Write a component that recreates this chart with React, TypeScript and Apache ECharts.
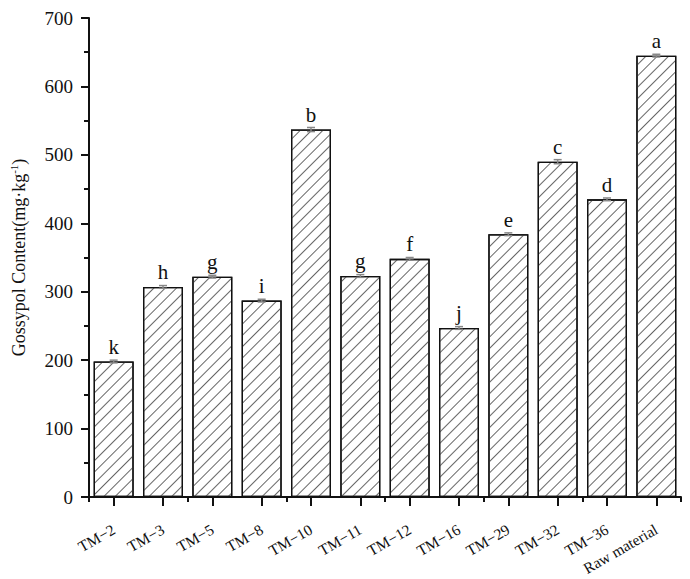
import React, { useEffect, useRef } from "react";
import * as echarts from "echarts";

const categories = ["TM−2", "TM−3", "TM−5", "TM−8", "TM−10", "TM−11", "TM−12", "TM−16", "TM−29", "TM−32", "TM−36", "Raw material"];
const values = [198, 307, 322, 287, 537, 323, 348, 247, 384, 490, 435, 645];
const errors = [2, 2, 2, 2, 3, 2, 2, 2, 2, 3, 2, 2];
const letters = ["k", "h", "g", "i", "b", "g", "f", "j", "e", "c", "d", "a"];
const yTicks = { min: 0, max: 700, interval: 100, minorInterval: 50 };

const FONT = "'Liberation Serif', 'Times New Roman', serif";

export default function App() {
  const ref = useRef<HTMLDivElement>(null);
  useEffect(() => {
    document.body.style.margin = "0";
    const chart = echarts.init(ref.current!, null, { renderer: "svg" });
    const errData = values.map((v, i) => [i, v, errors[i]]);
    chart.setOption({
      animation: false,
      backgroundColor: "#fff",
      grid: { left: 85, right: 9, top: 18, bottom: 82, containLabel: false },
      xAxis: [
        {
          type: "category",
          data: categories,
          axisLine: { show: true, lineStyle: { color: "#111", width: 2 } },
          axisTick: { show: true, alignWithLabel: true, length: 9, lineStyle: { color: "#111", width: 2 } },
          axisLabel: {
            rotate: 30,
            margin: 31,
            fontSize: 15.5,
            color: "#111",
            fontFamily: FONT,
            interval: 0,
          },
          splitLine: { show: false },
          z: 3,
        },
        {
          type: "category",
          data: categories,
          position: "bottom",
          axisLine: { show: false },
          axisTick: { show: true, alignWithLabel: false, length: 5, lineStyle: { color: "#111", width: 2 } },
          axisLabel: { show: false },
          splitLine: { show: false },
        },
      ],
      yAxis: [
        {
          type: "value",
          min: yTicks.min,
          max: yTicks.max,
          interval: yTicks.interval,
          name: "Gossypol Content(mg·kg{sup|-1})",
          nameLocation: "middle",
          nameGap: 60,
          nameRotate: 90,
          nameTextStyle: {
            fontSize: 18,
            color: "#111",
            fontFamily: FONT,
            rich: { sup: { fontSize: 11, fontFamily: FONT, color: "#111", padding: [0, 0, 10, 0] } },
          },
          axisLine: { show: true, lineStyle: { color: "#111", width: 2 } },
          axisTick: { show: true, length: 8, lineStyle: { color: "#111", width: 2 } },
          axisLabel: { fontSize: 19, color: "#111", fontFamily: FONT, margin: 16 },
          splitLine: { show: false },
          z: 3,
        },
        {
          type: "value",
          position: "left",
          min: yTicks.min,
          max: yTicks.max,
          interval: yTicks.minorInterval,
          axisLine: { show: false },
          axisTick: { show: true, length: 5, lineStyle: { color: "#111", width: 2 } },
          axisLabel: { show: false },
          splitLine: { show: false },
        },
      ],
      series: [
        {
          type: "bar",
          data: values,
          barWidth: 40,
          itemStyle: {
            color: "#fff",
            borderColor: "#111",
            borderWidth: 1.3,
            decal: {
              symbol: "rect",
              symbolSize: 1,
              dashArrayX: [1, 0],
              dashArrayY: [1, 7],
              rotation: -Math.PI / 4,
              color: "#666",
              backgroundColor: "#fff",
            },
          },
          label: {
            show: true,
            position: "top",
            distance: 4,
            formatter: (p: any) => letters[p.dataIndex],
            fontSize: 21,
            color: "#111",
            fontFamily: FONT,
          },
          z: 2,
        },
        {
          type: "custom",
          data: errData,
          z: 5,
          renderItem: (params: any, api: any) => {
            const i = api.value(0);
            const v = api.value(1);
            const e = api.value(2);
            const hi = api.coord([i, v + e]);
            const lo = api.coord([i, v - e]);
            const w = 4;
            const style = { stroke: "#888", lineWidth: 1.5 };
            return {
              type: "group",
              children: [
                { type: "line", shape: { x1: hi[0], y1: hi[1], x2: lo[0], y2: lo[1] }, style },
                { type: "line", shape: { x1: hi[0] - w, y1: hi[1], x2: hi[0] + w, y2: hi[1] }, style },
                { type: "line", shape: { x1: lo[0] - w, y1: lo[1], x2: lo[0] + w, y2: lo[1] }, style },
              ],
            };
          },
        },
      ],
    });
    return () => chart.dispose();
  }, []);
  return <div ref={ref} style={{ width: 690, height: 579 }} />;
}
